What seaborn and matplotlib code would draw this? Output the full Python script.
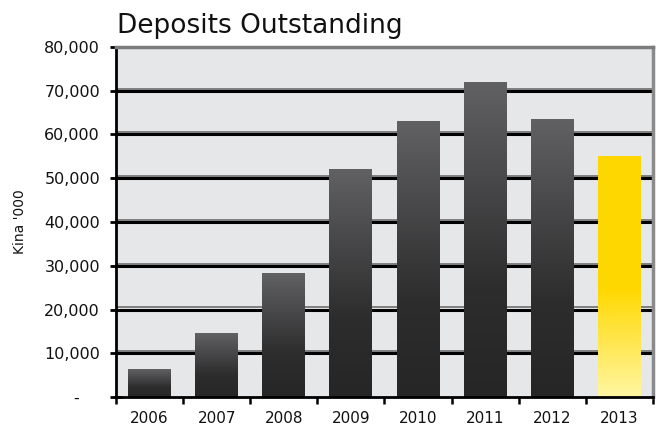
import numpy as np
import pandas as pd
import matplotlib
matplotlib.use("Agg")
import matplotlib.pyplot as plt
import matplotlib.transforms as mtransforms
from matplotlib.colors import LinearSegmentedColormap
import seaborn as sns

# Deposits outstanding by year (Kina '000)
years = ["2006", "2007", "2008", "2009", "2010", "2011", "2012", "2013"]
deposits = [6200, 14500, 28300, 52000, 62900, 71800, 63500, 54900]
highlight_year = "2013"

y_ticks = [0, 10000, 20000, 30000, 40000, 50000, 60000, 70000, 80000]
y_tick_labels = ["-    ", "10,000", "20,000", "30,000", "40,000",
                 "50,000", "60,000", "70,000", "80,000"]

sns.set_theme(style="white")
plt.rcParams["font.family"] = ["DejaVu Sans"]

fig = plt.figure(figsize=(6.58, 4.28), dpi=100)
ax = fig.add_axes([0.1763, 0.0724, 0.8160, 0.8178])
ax.set_facecolor("#e6e7e9")

df = pd.DataFrame({"year": years, "deposits": deposits})
sns.barplot(data=df, x="year", y="deposits", color="#444444", width=0.64,
            ax=ax, zorder=3, errorbar=None)

# vertical gradient fills for each bar
dark_cmap = LinearSegmentedColormap.from_list(
    "dark_bar", [(0.0, "#262627"), (0.35, "#2d2d2e"), (1.0, "#616163")])
gold_cmap = LinearSegmentedColormap.from_list(
    "gold_bar", [(0.0, "#fff6a2"), (0.45, "#ffd800"), (1.0, "#ffd700")])
grad = np.linspace(0, 1, 256).reshape(-1, 1)
for patch, yr in zip(ax.patches, years):
    x0, w, h = patch.get_x(), patch.get_width(), patch.get_height()
    cmap = gold_cmap if yr == highlight_year else dark_cmap
    ax.imshow(grad, cmap=cmap, extent=[x0, x0 + w, 0, h], origin="lower",
              aspect="auto", zorder=3, interpolation="bilinear")
    patch.set_facecolor("none")
    patch.set_edgecolor("none")

# gridlines: black rule with a grey edge above
shift_up = mtransforms.ScaledTranslation(0, 1.6 / 72, fig.dpi_scale_trans)
for v in y_ticks[1:-1]:
    ax.plot([0, 1], [v, v], transform=ax.get_yaxis_transform() + shift_up,
            color="#6e6e6e", lw=1.2, zorder=1, solid_capstyle="butt")
    ax.plot([0, 1], [v, v], transform=ax.get_yaxis_transform(),
            color="#000000", lw=2.2, zorder=1.1, solid_capstyle="butt")

ax.set_xlim(-0.5, len(years) - 0.5)
ax.set_ylim(0, 80000)
ax.set_yticks(y_ticks)
ax.set_yticklabels(y_tick_labels)
ax.set_xticks(range(len(years)))
ax.set_xticklabels(years)
ax.set_xticks(np.arange(-0.5, len(years), 1.0), minor=True)

ax.tick_params(axis="y", which="major", direction="inout", length=9, width=2,
               color="black", pad=7, labelsize=11.5, labelcolor="#111111", left=True)
ax.tick_params(axis="x", which="major", length=0, pad=10, labelsize=11,
               labelcolor="#111111")
ax.tick_params(axis="x", which="minor", direction="out", length=5, width=1.8,
               color="black", bottom=True)

ax.set_xlabel("")
ax.set_ylabel("")

for side in ["left", "bottom"]:
    ax.spines[side].set_color("black")
    ax.spines[side].set_linewidth(2)
ax.spines["top"].set_color("#7c7c7c")
ax.spines["top"].set_linewidth(2.5)
ax.spines["right"].set_color("#8a8a8a")
ax.spines["right"].set_linewidth(2.5)
for s in ax.spines.values():
    s.set_zorder(5)

fig.text(117 / 658, 1 - 26 / 428, "Deposits Outstanding", fontsize=19,
         ha="left", va="center", color="#111111")
fig.text(20 / 658, 1 - 222 / 428, "Kina '000", rotation=90, fontsize=10,
         ha="center", va="center", color="#111111")

fig.savefig("out.png", dpi=100, facecolor="white")
